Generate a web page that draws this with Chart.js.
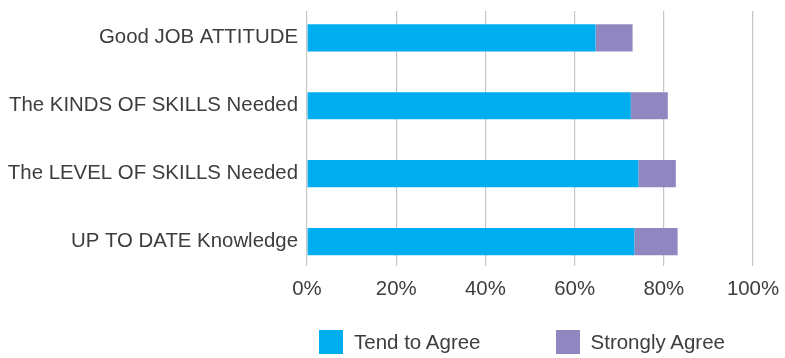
<!DOCTYPE html>
<html lang="en">
<head>
    <meta charset="UTF-8">
    <meta name="viewport" content="width=device-width, initial-scale=1">

    <title>Agreement by attribute</title>

    <!-- Chart.js -->
    <script src="https://cdn.jsdelivr.net/npm/chart.js"></script>

    <style>
        html, body {
            margin: 0;
            padding: 0;
            background: #fff;
        }
        .wrap {
            position: relative;
            width: 785px;
            height: 358px;
        }
        #legend {
            position: absolute;
            left: 319px;
            top: 330px;
            display: flex;
            align-items: center;
            white-space: nowrap;
            font: 20.5px "Liberation Sans", Arial, sans-serif;
            color: #3d3d3d;
        }
        #legend .item {
            display: flex;
            flex-shrink: 0;
            align-items: center;
            margin-right: 75px;
        }
        #legend .box {
            width: 24px;
            height: 24px;
            margin-right: 11px;
        }
    </style>
</head>
<body>
    <div class="wrap">
        <canvas id="agreeChart" width="785" height="358"></canvas>
        <div id="legend"></div>
    </div>

    <script>
        // data (percent)
        const categories = [
            'Good JOB ATTITUDE',
            'The KINDS OF SKILLS Needed',
            'The LEVEL OF SKILLS Needed',
            'UP TO DATE Knowledge'
        ];
        const tendToAgree = [64.7, 72.6, 74.3, 73.4];
        const stronglyAgree = [8.3, 8.3, 8.4, 9.7];
        const xTicks = [0, 20, 40, 60, 80, 100];

        const seriesNames = ['Tend to Agree', 'Strongly Agree'];
        const seriesColors = ['#00AEEF', '#9087C1'];
        const seriesValues = [tendToAgree, stronglyAgree];

        Chart.defaults.font.family = '"Liberation Sans", Arial, sans-serif';
        Chart.defaults.font.size = 20.4;
        Chart.defaults.color = '#3d3d3d';

        // scales reserve room for overhanging labels; drop it so layout.padding rules
        function noPad(s) {
            s.paddingTop = 0;
            s.paddingBottom = 0;
            s.paddingLeft = 0;
            s.paddingRight = 0;
        }

        const ctx = document.getElementById('agreeChart').getContext('2d');
        new Chart(ctx, {
            type: 'bar',
            data: {
                datasets: seriesNames.map((name, s) => ({
                    label: name,
                    data: seriesValues[s].map((v, i) => ({ x: v, y: i })),
                    backgroundColor: seriesColors[s],
                    borderWidth: 0,
                    barPercentage: 0.4,
                    categoryPercentage: 1
                }))
            },
            options: {
                indexAxis: 'y',
                responsive: false,
                animation: false,
                layout: {
                    autoPadding: false,
                    padding: { top: 11, right: 32, bottom: 0, left: 0 }
                },
                plugins: {
                    legend: { display: false },
                    tooltip: { enabled: true }
                },
                scales: {
                    x: {
                        type: 'linear',
                        stacked: true,
                        min: 0,
                        max: 100,
                        border: { display: false },
                        grid: {
                            color: '#c6c6c6',
                            lineWidth: 1.2,
                            drawTicks: false
                        },
                        afterBuildTicks: s => {
                            s.ticks = xTicks.map(v => ({ value: v }));
                        },
                        ticks: {
                            padding: 11,
                            callback: v => v + '%'
                        },
                        afterFit: s => { s.height = 92; noPad(s); }
                    },
                    y: {
                        type: 'linear',
                        stacked: true,
                        reverse: true,
                        offset: false,
                        min: -0.395,
                        max: 3.36,
                        border: { display: false },
                        grid: { display: false, drawTicks: false },
                        ticks: {
                            stepSize: 1,
                            includeBounds: false,
                            padding: 9,
                            callback: v => categories[v]
                        },
                        afterFit: s => { s.width = 307; noPad(s); }
                    }
                }
            }
        });

        // legend as plain html so the gaps match
        const legend = document.getElementById('legend');
        seriesNames.forEach((name, s) => {
            const item = document.createElement('div');
            item.className = 'item';
            const box = document.createElement('span');
            box.className = 'box';
            box.style.background = seriesColors[s];
            const label = document.createElement('span');
            label.textContent = name;
            item.appendChild(box);
            item.appendChild(label);
            legend.appendChild(item);
        });
    </script>
</body>
</html>
